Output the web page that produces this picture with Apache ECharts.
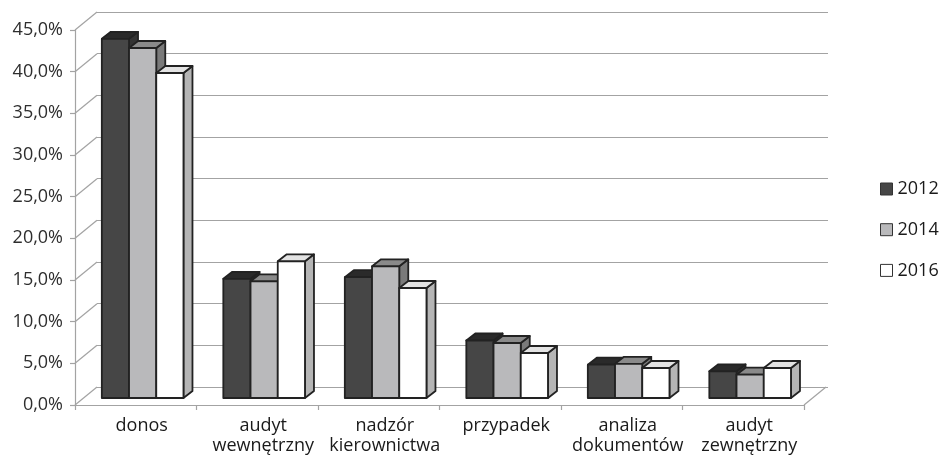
<!DOCTYPE html>
<html>
<head>
<meta charset="utf-8">
<script src="https://cdn.jsdelivr.net/npm/echarts@6/dist/echarts.min.js"></script>
<style>
  html, body { margin: 0; padding: 0; background: #fff; }
  #chart { width: 944px; height: 457px; }
</style>
</head>
<body>
<div id="chart"></div>
<script>
// Categories and yearly shares (%)
const categories = ['donos', 'audyt\nwewnętrzny', 'nadzór\nkierownictwa', 'przypadek', 'analiza\ndokumentów', 'audyt\nzewnętrzny'];
const years = ['2012', '2014', '2016'];
const values2012 = [43.1, 14.3, 14.5, 6.9, 4.0, 3.2];
const values2014 = [42.0, 14.0, 15.8, 6.6, 4.1, 2.8];
const values2016 = [39.0, 16.4, 13.2, 5.4, 3.6, 3.6];
const yTicks = [0, 5, 10, 15, 20, 25, 30, 35, 40, 45];

const FONT = "'Open Sans', 'DejaVu Sans', sans-serif";

// Depth of the floor / left wall (back plane offset)
const WALL_DX = 22, WALL_DY = -18;
// Bars stand a little behind the front plane
const BAR_SX = 8.6, BAR_SY = -7;
// Depth of each bar box
const BOX_DX = 9, BOX_DY = -7;

const faceStyles = [
  { front: '#464646', top: '#2a2a2a', side: '#333333' },
  { front: '#b9b9bb', top: '#8a8a8a', side: '#7a7a7a' },
  { front: '#ffffff', top: '#e3e3e3', side: '#b5b5b5' }
];
const legendColors = ['#464646', '#b9b9bb', '#ffffff'];

function barRenderer(seriesIdx) {
  return function (params, api) {
    const cat = api.value(0);
    const v = api.value(1);
    const band = api.size([1, 0])[0];
    const base = api.coord([cat, 0]);
    const topPt = api.coord([cat, v]);
    const start = base[0] - band / 2;
    const bw = band * 0.224;
    const x = start + band * 0.15 + seriesIdx * bw + BAR_SX;
    const top = topPt[1] + BAR_SY;
    const bottom = base[1] + BAR_SY;
    const st = faceStyles[seriesIdx];
    const line = { stroke: '#222', lineWidth: 1.8, lineJoin: 'round' };
    return {
      type: 'group',
      children: [
        {
          type: 'polygon',
          shape: { points: [[x + bw, top], [x + bw + BOX_DX, top + BOX_DY], [x + bw + BOX_DX, bottom + BOX_DY], [x + bw, bottom]] },
          style: Object.assign({ fill: st.side }, line)
        },
        {
          type: 'polygon',
          shape: { points: [[x, top], [x + BOX_DX, top + BOX_DY], [x + bw + BOX_DX, top + BOX_DY], [x + bw, top]] },
          style: Object.assign({ fill: st.top }, line)
        },
        {
          type: 'rect',
          shape: { x: x, y: top, width: bw, height: bottom - top },
          style: Object.assign({ fill: st.front }, line)
        }
      ]
    };
  };
}

// Left wall diagonals at every tick, plus the right edge of the floor
function wallRenderer(params, api) {
  const v = api.value(0);
  const cs = params.coordSys;
  const y = api.coord([0, v])[1];
  const style = { stroke: '#a3a3a3', lineWidth: 1.2 };
  const children = [{
    type: 'line',
    shape: { x1: cs.x, y1: y, x2: cs.x + WALL_DX, y2: y + WALL_DY },
    style: style
  }];
  if (v === 0) {
    children.push({
      type: 'line',
      shape: { x1: cs.x + cs.width, y1: y, x2: cs.x + cs.width + WALL_DX, y2: y + WALL_DY },
      style: style
    });
  }
  return { type: 'group', children: children };
}

const seriesValues = [values2012, values2014, values2016];

const chart = echarts.init(document.getElementById('chart'), null, { renderer: 'canvas' });
chart.setOption({
  backgroundColor: '#ffffff',
  animation: false,
  textStyle: { fontFamily: FONT },
  grid: [
    { left: 75, right: 140, top: 30, bottom: 52 },
    { left: 75 + WALL_DX, right: 140 - WALL_DX - 2, top: 30 + WALL_DY, bottom: 52 - WALL_DY }
  ],
  legend: {
    orient: 'vertical',
    left: 880,
    top: 179,
    padding: 0,
    itemWidth: 12,
    itemHeight: 12,
    itemGap: 20.7,
    icon: 'rect',
    textStyle: { fontFamily: FONT, fontSize: 18, color: '#1a1a1a', lineHeight: 20 },
    data: years.map((y, i) => ({
      name: y,
      itemStyle: { color: legendColors[i], borderColor: '#333', borderWidth: 1 }
    }))
  },
  xAxis: [
    {
      type: 'category',
      gridIndex: 0,
      data: categories,
      axisLine: { lineStyle: { color: '#a3a3a3', width: 1.2 } },
      axisTick: { show: true, length: 5, lineStyle: { color: '#a3a3a3', width: 1.2 } },
      axisLabel: {
        interval: 0,
        margin: 11,
        fontFamily: FONT,
        fontSize: 18,
        lineHeight: 20,
        color: '#1a1a1a',
        padding: [0, 0, 0, 12]
      }
    },
    {
      type: 'category',
      gridIndex: 1,
      data: categories,
      show: false
    }
  ],
  yAxis: [
    {
      type: 'value',
      gridIndex: 0,
      min: 0,
      max: 45,
      interval: 5,
      axisLine: { show: true, lineStyle: { color: '#a3a3a3', width: 1.2 } },
      axisTick: { show: true, length: 5, lineStyle: { color: '#a3a3a3', width: 1.2 } },
      splitLine: { show: false },
      axisLabel: {
        margin: 12,
        fontFamily: FONT,
        fontSize: 18,
        color: '#2e2e2e',
        formatter: v => v.toFixed(1).replace('.', ',') + '%'
      }
    },
    {
      type: 'value',
      gridIndex: 1,
      min: 0,
      max: 45,
      interval: 5,
      axisLine: { show: false },
      axisTick: { show: false },
      axisLabel: { show: false },
      splitLine: { show: true, lineStyle: { color: '#a3a3a3', width: 1.2 } }
    }
  ],
  series: [
    {
      type: 'custom',
      name: 'wall',
      xAxisIndex: 0,
      yAxisIndex: 0,
      silent: true,
      clip: false,
      z: 1,
      renderItem: wallRenderer,
      encode: { y: 0 },
      data: yTicks.map(t => [t])
    }
  ].concat(years.map((y, i) => ({
    type: 'custom',
    name: y,
    xAxisIndex: 0,
    yAxisIndex: 0,
    clip: false,
    z: 3 + i,
    itemStyle: { color: legendColors[i], borderColor: '#333', borderWidth: 1 },
    renderItem: barRenderer(i),
    encode: { x: 0, y: 1 },
    data: seriesValues[i].map((v, k) => [k, v])
  })))
});
</script>
</body>
</html>
